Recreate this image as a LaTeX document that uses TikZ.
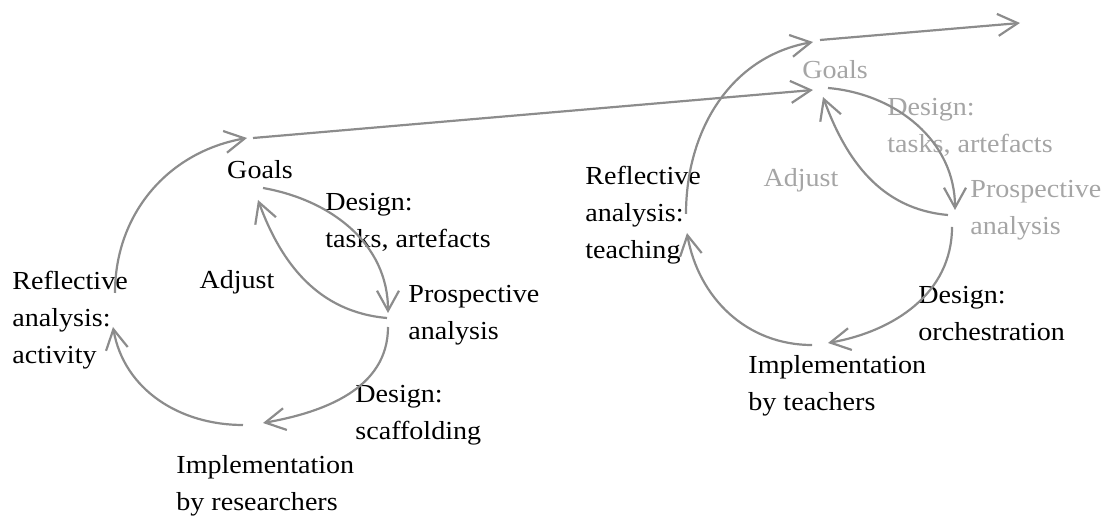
\documentclass[tikz,border=0pt]{standalone}
\usepackage{fontspec}
\setmainfont{Liberation Serif}[FakeStretch=1.08]
\usetikzlibrary{arrows.meta}
\definecolor{arrowgray}{RGB}{140,140,140}
\definecolor{fadedgray}{RGB}{165,165,165}
\tikzset{
  lbl/.style={inner sep=0pt, align=left, font=\fontsize{13}{18.5}\selectfont},
  faded/.style={lbl, text=fadedgray},
  cycarrow/.style={draw=arrowgray, line width=1.1pt, -{Straight Barb[length=10pt,width=11pt]}}
}
\begin{document}
\begin{tikzpicture}[x=0.5pt,y=0.5pt]
      \useasboundingbox (0,0) rectangle (1119,518);
      % first cycle
      \draw
        (260,348) node[lbl] (gL){Goals}
        (325,296) node[lbl,anchor=west] (dtL){Design:\\tasks, artefacts}
        (237,236) node[lbl] (adjL){Adjust}
        (408,203) node[lbl,anchor=west] (pL){Prospective\\analysis}
        (12,198) node[lbl,anchor=west] (rL){Reflective\\analysis:\\activity}
        (355,103) node[lbl,anchor=west] (dsL){Design:\\scaffolding}
        (176,32) node[lbl,anchor=west] (iL){Implementation\\by researchers};
      % second cycle
      \draw
        (835,448) node[faded] (gR){Goals}
        (887,391) node[faded,anchor=west] (dtR){Design:\\tasks, artefacts}
        (801,338) node[faded] (adjR){Adjust}
        (970,308) node[faded,anchor=west] (pR){Prospective\\analysis}
        (585,303) node[lbl,anchor=west] (rR){Reflective\\analysis:\\teaching}
        (918,204) node[lbl,anchor=west] (doR){Design:\\orchestration}
        (748,132) node[lbl,anchor=west] (iR){Implementation\\by teachers};
      \coordinate (next) at (1020,495);
      \begin{scope}[cycarrow]
        \draw ([shift={(3,-18)}]gL.center) to[out=-10,in=90] ([shift={(-20,2)}]pL.west);
        \draw ([shift={(-21,-3)}]pL.west) to[out=175,in=-70] ([shift={(-2,-30)}]gL.center);
        \draw ([shift={(-20,-12)}]pL.west) to[out=-90,in=10] ([shift={(87,63)}]iL.west);
        \draw ([shift={(67,61)}]iL.west) to[out=180,in=-80] ([shift={(101,-7)}]rL.west);
        \draw ([shift={(103,27)}]rL.west) to[out=90,in=-170] ([shift={(-13,32)}]gL.center);
        \draw ([shift={(-7,32)}]gL.center) to ([shift={(-22,-20)}]gR.center);
        \draw ([shift={(-7,-18)}]gR.center) to[out=-5,in=90] ([shift={(-15,0)}]pR.west);
        \draw ([shift={(-22,-5)}]pR.west) to[out=175,in=-70] ([shift={(-12,-27)}]gR.center);
        \draw ([shift={(-18,-17)}]pR.west) to[out=-90,in=10] ([shift={(80,43)}]iR.west);
        \draw ([shift={(64,41)}]iR.west) to[out=180,in=-80] ([shift={(102,-18)}]rR.west);
        \draw ([shift={(101,1)}]rR.west) to[out=90,in=-170] ([shift={(-22,28)}]gR.center);
        \draw ([shift={(-15,30)}]gR.center) to (next);
      \end{scope}
    \end{tikzpicture}
\end{document}
